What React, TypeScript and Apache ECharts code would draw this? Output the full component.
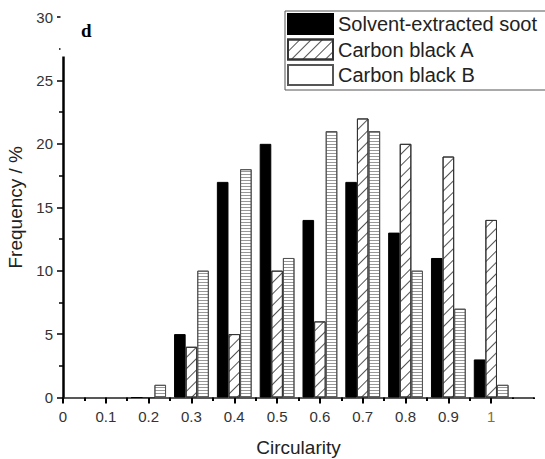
import React, { useEffect, useRef } from "react";
import * as echarts from "echarts";

const circularity = [0.2, 0.3, 0.4, 0.5, 0.6, 0.7, 0.8, 0.9, 1.0];
const soot = [0, 5, 17, 20, 14, 17, 13, 11, 3];
const carbonA = [0, 4, 5, 10, 6, 22, 20, 19, 14];
const carbonB = [1, 10, 18, 11, 21, 21, 10, 7, 1];
const seriesNames = ["Solvent-extracted soot", "Carbon black A", "Carbon black B"];
const yAxisTitle = "Frequency / %";
const xAxisTitle = "Circularity";
const panelLabel = "d";

const FONT = "'Liberation Sans', Arial, sans-serif";

export default function App() {
  const ref = useRef<HTMLDivElement>(null);
  useEffect(() => {
    if (!ref.current) return;
    const chart = echarts.init(ref.current, null, { renderer: "svg" });
    const decalA = {
      symbol: "rect",
      symbolSize: 1,
      dashArrayX: [1, 0],
      dashArrayY: [1, 7],
      rotation: -Math.PI / 4,
      color: "rgba(40,40,40,0.8)",
    };
    const decalB = {
      symbol: "rect",
      symbolSize: 1,
      dashArrayX: [1, 0],
      dashArrayY: [1, 1.5],
      rotation: 0,
      color: "rgba(50,50,50,0.5)",
    };
    const toPairs = (vals: number[]) => circularity.map((x, i) => [x, vals[i]]);
    const option: any = {
      animation: false,
      backgroundColor: "#fff",
      textStyle: { fontFamily: FONT },
      grid: { left: 63, right: 11, top: 17, bottom: 61.5, containLabel: false, outerBoundsMode: "none" },
      legend: {
        orient: "vertical",
        left: 285,
        top: 11,
        padding: [2, 80, 4, 2],
        itemWidth: 45,
        itemHeight: 20,
        itemGap: 3.5,
        icon: "rect",
        borderColor: "#555",
        borderWidth: 1,
        textStyle: { fontSize: 20, color: "#222", fontFamily: FONT },
        data: [
          { name: seriesNames[0] },
          { name: seriesNames[1] },
          {
            name: seriesNames[2],
            itemStyle: { decal: { symbol: "rect", color: "rgba(0,0,0,0)" } },
          },
        ],
      },
      xAxis: {
        type: "value",
        min: 0,
        max: 1.1,
        interval: 0.1,
        name: xAxisTitle,
        nameLocation: "middle",
        nameGap: 40,
        nameTextStyle: { fontSize: 19, color: "#222", fontFamily: FONT },
        axisLine: { show: true, onZero: false, lineStyle: { color: "#222", width: 1.5 } },
        axisTick: {
          show: true,
          inside: false,
          length: 6,
          lineStyle: { color: "black", width: 2 },
        },
        minorTick: { show: true, splitNumber: 2, length: 3.5, lineStyle: { color: "black", width: 2 } },
        splitLine: { show: false },
        minorSplitLine: { show: false },
        axisLabel: {
          show: true,
          fontSize: 15,
          color: "#333",
          margin: 11,
          fontFamily: FONT,
          formatter: (v: number) => (v > 1.05 ? "" : Math.abs(v - 1) < 1e-9 ? "{b|1}" : String(Math.round(v * 10) / 10)),
          rich: { b: { fontSize: 15, color: "#8a6d3a", fontFamily: FONT } },
        },
      },
      yAxis: {
        type: "value",
        min: 0,
        max: 30,
        interval: 5,
        name: yAxisTitle,
        nameLocation: "middle",
        nameGap: 32,
        nameTextStyle: { fontSize: 19, color: "#222", fontFamily: FONT },
        axisLine: { show: true, lineStyle: { color: "black", width: 2.5 } },
        axisTick: { show: true, inside: false, length: 6, lineStyle: { color: "black", width: 1.5 } },
        minorTick: { show: true, splitNumber: 2, length: 4, lineStyle: { color: "black", width: 1.5 } },
        splitLine: { show: false },
        minorSplitLine: { show: false },
        axisLabel: { fontSize: 15, color: "#333", margin: 10, fontFamily: FONT },
      },
      series: [
        {
          type: "bar",
          name: seriesNames[0],
          data: toPairs(soot),
          barWidth: 11.6,
          barGap: "0%",
          itemStyle: { color: "#000", borderColor: "#000", borderWidth: 1 },
        },
        {
          type: "bar",
          name: seriesNames[1],
          data: toPairs(carbonA),
          barWidth: 11.6,
          barGap: "0%",
          itemStyle: { color: "#fff", borderColor: "#333", borderWidth: 1, decal: decalA },
        },
        {
          type: "bar",
          name: seriesNames[2],
          data: toPairs(carbonB),
          barWidth: 11.6,
          barGap: "0%",
          itemStyle: { color: "#fff", borderColor: "#555", borderWidth: 1, decal: decalB },
        },
      ],
      graphic: [
        {
          type: "rect",
          shape: { x: 60.5, y: 5, width: 18, height: 51.5 },
          style: { fill: "#fff" },
          z: 100,
        },
        {
          type: "rect",
          shape: { x: 512, y: 399, width: 33, height: 8 },
          style: { fill: "#fff" },
          z: 100,
        },
        {
          type: "text",
          x: 81,
          y: 21,
          style: {
            text: panelLabel,
            fontSize: 19,
            fontWeight: "bold",
            fontFamily: "'Liberation Serif', 'Times New Roman', serif",
            fill: "#000",
          },
          z: 101,
        },
      ],
    };
    chart.setOption(option);
    return () => chart.dispose();
  }, []);
  return (
    <div
      ref={ref}
      style={{ position: "fixed", left: 0, top: 0, width: 545, height: 459, background: "#fff" }}
    />
  );
}
